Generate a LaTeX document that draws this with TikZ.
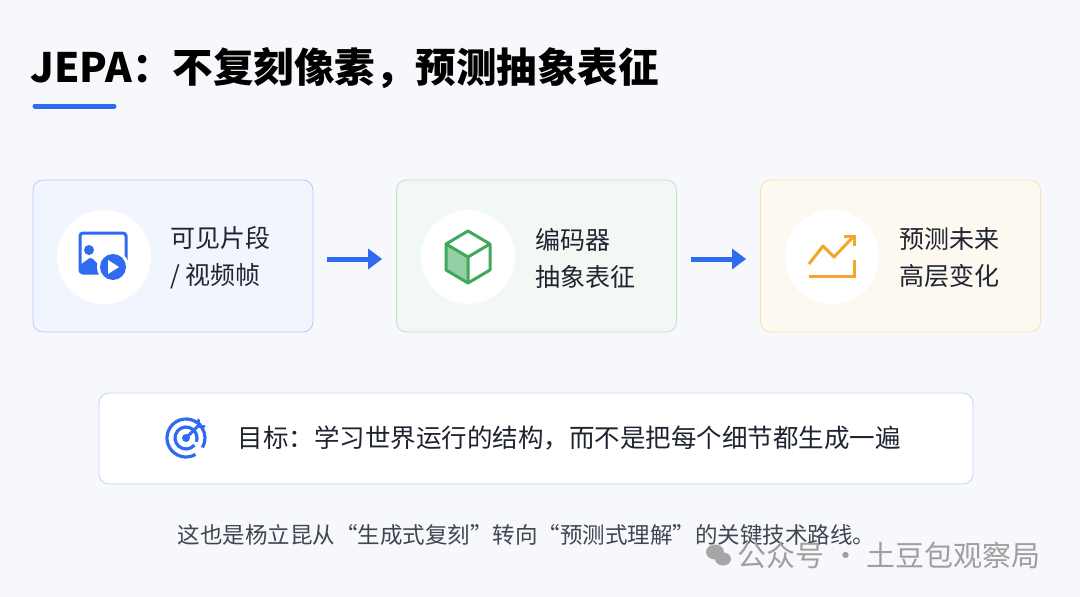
\documentclass[tikz,border=0pt]{standalone}
\usepackage{fontspec}
\setmainfont{Noto Sans CJK SC}
\usetikzlibrary{arrows.meta,shadows}
\definecolor{bg}{HTML}{F6F8FC}
\definecolor{ink}{HTML}{1F2430}
\definecolor{blu}{HTML}{2F6BF0}
\definecolor{grn}{HTML}{3FA95B}
\definecolor{org}{HTML}{F4A62A}
\tikzset{
 card/.style={draw=#1!35,fill=#1!7,rounded corners=10,line width=0.8,minimum width=280,minimum height=152},
 disc/.style={circle,fill=white,minimum size=94,inner sep=0},
 lbl/.style={anchor=west,align=left,font=\fontsize{25}{37}\selectfont,text=ink},
 flow/.style={-{Triangle[length=14,width=20]},line width=5,blu},
}
\begin{document}
\begin{tikzpicture}[x=1pt,y=-1pt]
\fill[bg] (0,0) rectangle (1080,597);
\useasboundingbox (0,0) rectangle (1080,597);
\node[anchor=west,font=\fontsize{40.5}{46}\selectfont\bfseries,text=black] (title) at (27,68) {JEPA：不复刻像素，预测抽象表征};
\draw[blu,line width=5,line cap=round] (35,106) -- (114,106);
% cards
\node[card=blu] (c1) at (173,256) {};
\node[card=grn] (c2) at (536.5,256) {};
\node[card=org] (c3) at (900.5,256) {};
\node[disc] (d1) at (104,257) {};
\node[disc] (d2) at (468,257) {};
\node[disc] (d3) at (832,257) {};
\node[lbl] (t1) at (167,258) {可见片段\\/ 视频帧};
\node[lbl] (t2) at (532,258) {编码器\\抽象表征};
\node[lbl] (t3) at (896,258) {预测未来\\高层变化};
\draw[flow] ([xshift=14,yshift=-3]c1.east) -- ([xshift=-14,yshift=-3]c2.west);
\draw[flow] ([xshift=14,yshift=-3]c2.east) -- ([xshift=-14,yshift=-3]c3.west);
% image icon
\begin{scope}[shift={(d1.center)}]
\draw[blu,line width=3,rounded corners=3] (-24,-24) rectangle (22,16);
\fill[blu] (-15,-7) circle (5);
\fill[blu,rounded corners=2] (-24,16) -- (-24,8) -- (-13,0) -- (-3,10) -- (-3,16) -- cycle;
\fill[white] (9,10) circle (16);
\fill[blu] (9,10) circle (13);
\fill[white] (4,3) -- (4,17) -- (15,10) -- cycle;
\end{scope}
% cube
\begin{scope}[shift={(d2.center)}]
\fill[grn!55] (-22,-13) -- (0,0) -- (0,26) -- (-22,13) -- cycle;
\draw[grn,line width=3,line join=round] (0,-26) -- (22,-13) -- (22,13) -- (0,26) -- (-22,13) -- (-22,-13) -- cycle;
\draw[grn,line width=3,line join=round] (-22,-13) -- (0,0) -- (22,-13) (0,0) -- (0,26);
\end{scope}
% chart
\begin{scope}[shift={(d3.center)}]
\draw[org,line width=3,line join=round] (-23,7) -- (-9,-11) -- (2,0) -- (21,-20);
\draw[org,line width=3] (12,-21) -- (22,-21) -- (22,-11);
\draw[org,line width=3] (-23,19) -- (22,19) -- (22,3);
\end{scope}
% goal
\node[draw=blu!30,fill=white,rounded corners=10,line width=0.8,minimum width=874,minimum height=91] (goal) at (536,438.5) {};
\begin{scope}[shift={(186,438)}]
\draw[blu,line width=3.2] (0,0) ++(60:19) arc (60:390:19);
\draw[blu,line width=3.2] (0,0) ++(40:11) arc (40:380:11);
\fill[blu] (0,0) circle (4);
\draw[blu,line width=3,line cap=round] (0,0) -- (14,-14);
\draw[blu,line width=3,line cap=round] (12,-18) -- (12,-12) -- (18,-12);
\end{scope}
\node[anchor=west,font=\fontsize{25.5}{28}\selectfont,text=ink] (gt) at (234,438) {目标：学习世界运行的结构，而不是把每个细节都生成一遍};
\node[anchor=west,font=\fontsize{22.5}{26}\selectfont,text=ink!85] (foot) at (174,535) {这也是杨立昆从“生成式复刻”转向“预测式理解”的关键技术路线。};
% watermark
\begin{scope}[shift={(718,555)},gray!70]
\fill (-3,-3) ellipse (9 and 7.5);
\fill (5,4) ellipse (8 and 6.5);
\end{scope}
\node[anchor=west,font=\fontsize{29}{32}\selectfont,text=gray!75] (wm) at (734,555) {公众号 · 土豆包观察局};
\end{tikzpicture}
\end{document}
